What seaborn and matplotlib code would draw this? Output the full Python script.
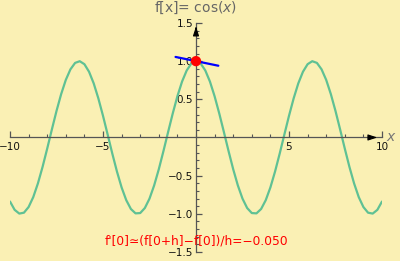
import matplotlib
matplotlib.use("Agg")
import matplotlib.pyplot as plt
import matplotlib.transforms as mtransforms
from matplotlib.ticker import FixedLocator, MultipleLocator
import numpy as np
import pandas as pd
import seaborn as sns

# curve samples f(x) = cos(x), read at steps of 0.25
x_vals = [-10.0, -9.75, -9.5, -9.25, -9.0, -8.75, -8.5, -8.25, -8.0, -7.75,
          -7.5, -7.25, -7.0, -6.75, -6.5, -6.25, -6.0, -5.75, -5.5, -5.25,
          -5.0, -4.75, -4.5, -4.25, -4.0, -3.75, -3.5, -3.25, -3.0, -2.75,
          -2.5, -2.25, -2.0, -1.75, -1.5, -1.25, -1.0, -0.75, -0.5, -0.25,
          0.0, 0.25, 0.5, 0.75, 1.0, 1.25, 1.5, 1.75, 2.0, 2.25,
          2.5, 2.75, 3.0, 3.25, 3.5, 3.75, 4.0, 4.25, 4.5, 4.75,
          5.0, 5.25, 5.5, 5.75, 6.0, 6.25, 6.5, 6.75, 7.0, 7.25,
          7.5, 7.75, 8.0, 8.25, 8.5, 8.75, 9.0, 9.25, 9.5, 9.75, 10.0]
y_vals = [-0.839, -0.948, -0.997, -0.985, -0.911, -0.781, -0.602, -0.386, -0.146, 0.104,
          0.347, 0.568, 0.754, 0.893, 0.977, 0.999, 0.960, 0.861, 0.709, 0.512,
          0.284, 0.038, -0.211, -0.446, -0.654, -0.821, -0.937, -0.994, -0.990, -0.924,
          -0.801, -0.628, -0.416, -0.178, 0.071, 0.315, 0.540, 0.732, 0.878, 0.969,
          1.000, 0.969, 0.878, 0.732, 0.540, 0.315, 0.071, -0.178, -0.416, -0.628,
          -0.801, -0.924, -0.990, -0.994, -0.937, -0.821, -0.654, -0.446, -0.211, 0.038,
          0.284, 0.512, 0.709, 0.861, 0.960, 0.999, 0.977, 0.893, 0.754, 0.568,
          0.347, 0.104, -0.146, -0.386, -0.602, -0.781, -0.911, -0.985, -0.997, -0.948, -0.839]

# secant (difference quotient) line and the point
sec_x = [-1.1, 1.2]
sec_y = [1.055, 0.94]
pt_x = [0.0]
pt_y = [1.0]

x_ticks = [-10, -5, 5, 10]
x_ticklabels = ["\u221210", "\u22125", "5", "10"]
y_ticks = [-1.5, -1.0, -0.5, 0.5, 1.0, 1.5]
y_ticklabels = ["\u22121.5", "\u22121.0", "\u22120.5", "0.5", "1.0", "1.5"]

title_text = "f[x]= cos($\\it{x}$)"
deriv_text = "f'[0]\u2243(f[0+h]\u2212f[0])/h=\u22120.050"

sns.set_style("white")
plt.rcParams['font.family'] = ['DejaVu Sans']

bg = "#FAF0B4"
fig = plt.figure(figsize=(4.0, 2.61), dpi=100, facecolor=bg)
ax = fig.add_axes([0.025, 0.0345, 0.93, 0.8775])
ax.set_facecolor(bg)

curve = pd.DataFrame({"x": x_vals, "y": y_vals})
sns.lineplot(data=curve, x="x", y="y", ax=ax, color="#5FC194", linewidth=1.6,
             sort=False, estimator=None)
sec = pd.DataFrame({"x": sec_x, "y": sec_y})
sns.lineplot(data=sec, x="x", y="y", ax=ax, color="#0000FF", linewidth=1.6,
             sort=False, estimator=None, zorder=4)
pt = pd.DataFrame({"x": pt_x, "y": pt_y})
sns.scatterplot(data=pt, x="x", y="y", ax=ax, color="#FF0000", s=55,
                edgecolor="none", zorder=5)

ax.set_xlim(-10, 10)
ax.set_ylim(-1.5, 1.5)
ax.set_xlabel("")
ax.set_ylabel("")

for s in ["top", "right"]:
    ax.spines[s].set_visible(False)
ax.spines["left"].set_position(("data", 0))
ax.spines["bottom"].set_position(("data", 0))
for s in ["left", "bottom"]:
    ax.spines[s].set_color("#555555")
    ax.spines[s].set_linewidth(0.9)

ax.xaxis.set_major_locator(FixedLocator(x_ticks))
ax.set_xticklabels(x_ticklabels)
ax.xaxis.set_minor_locator(MultipleLocator(1))
ax.yaxis.set_major_locator(FixedLocator(y_ticks))
ax.set_yticklabels(y_ticklabels)
ax.yaxis.set_minor_locator(MultipleLocator(0.1))
ax.tick_params(axis="x", which="both", bottom=True, top=False)
ax.tick_params(axis="y", which="both", left=True, right=False)
ax.tick_params(axis="both", which="both", direction="in", color="#555555",
               labelsize=7.5, labelcolor="#111111")
ax.tick_params(axis="both", which="major", length=4, width=0.9)
ax.tick_params(axis="both", which="minor", length=2.5, width=0.8)
ax.tick_params(axis="x", which="major", pad=3)
ax.tick_params(axis="y", which="major", pad=2)

# axis arrows
ax.annotate("", xy=(9.9, 0), xytext=(9.2, 0),
            arrowprops=dict(arrowstyle="-|>,head_length=0.55,head_width=0.18",
                            color="black", lw=0.8), annotation_clip=False)
ax.annotate("", xy=(0, 1.49), xytext=(0, 1.38),
            arrowprops=dict(arrowstyle="-|>,head_length=0.55,head_width=0.18",
                            color="black", lw=0.8), annotation_clip=False)

ax.text(10.25, 0, "x", fontsize=10, color="#777777", style="italic",
        ha="left", va="center")

trans = mtransforms.blended_transform_factory(ax.transData, fig.transFigure)
ax.text(0, 0.968, title_text, transform=trans, ha="center", va="center",
        fontsize=10, color="#666666")
ax.text(0, -1.36, deriv_text, ha="center", va="center", fontsize=8.8,
        color="#FF0000")

fig.savefig("out.png", dpi=100, facecolor=bg)
